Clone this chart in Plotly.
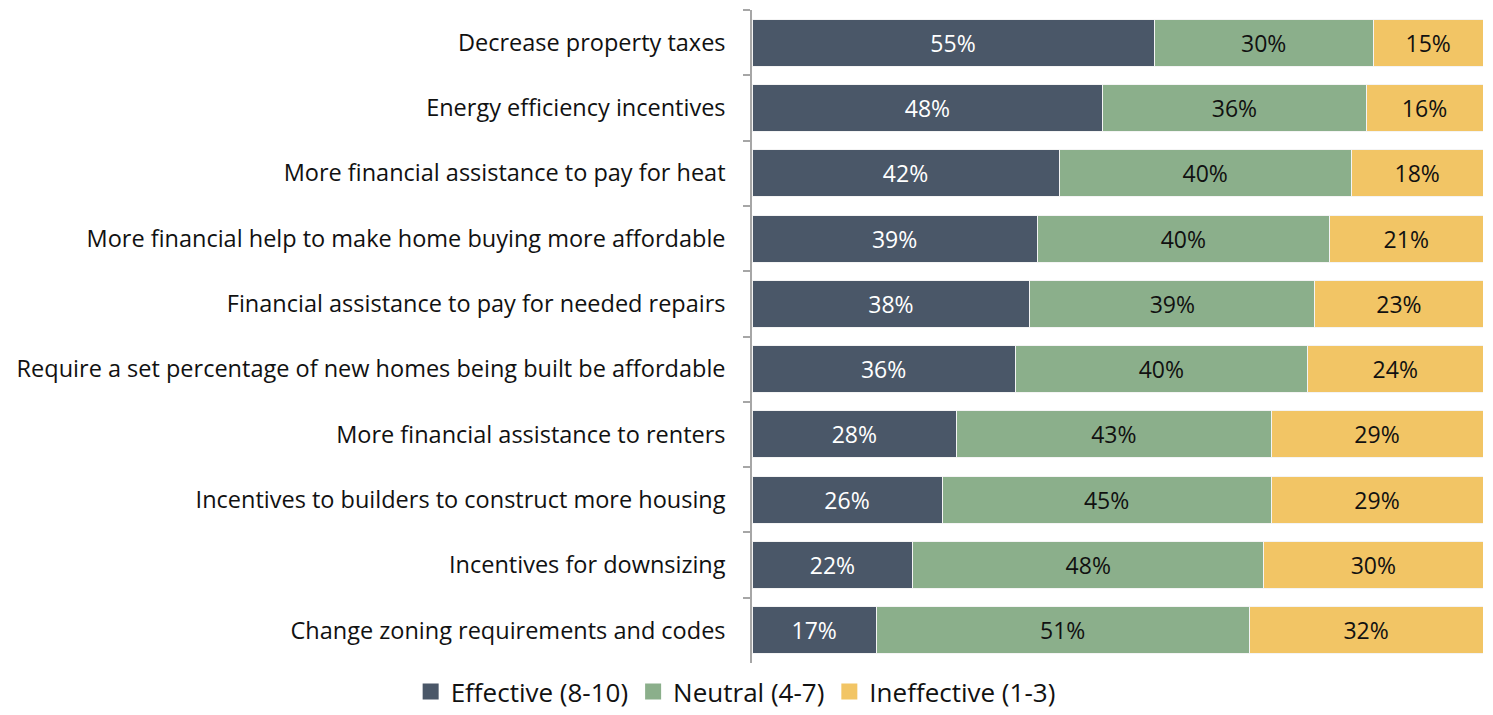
import plotly.graph_objects as go

categories = [
    "Decrease property taxes",
    "Energy efficiency incentives",
    "More financial assistance to pay for heat",
    "More financial help to make home buying more affordable",
    "Financial assistance to pay for needed repairs",
    "Require a set percentage of new homes being built be affordable",
    "More financial assistance to renters",
    "Incentives to builders to construct more housing",
    "Incentives for downsizing",
    "Change zoning requirements and codes",
]
effective = [55, 48, 42, 39, 38, 36, 28, 26, 22, 17]
neutral = [30, 36, 40, 40, 39, 40, 43, 45, 48, 51]
ineffective = [15, 16, 18, 21, 23, 24, 29, 29, 30, 32]

series = [
    ("Effective (8-10)", effective, "#4A5768", "white"),
    ("Neutral (4-7)", neutral, "#8BAF8B", "#111111"),
    ("Ineffective (1-3)", ineffective, "#F2C565", "#111111"),
]

FONT = "Open Sans"
fig = go.Figure()
for name, vals, color, tcolor in series:
    fig.add_trace(go.Bar(
        y=categories, x=vals, name=name, orientation="h",
        marker=dict(color=color, line=dict(color="#F4F4F4", width=1)),
        text=[f"{v}%" for v in vals], textposition="inside",
        insidetextanchor="middle", textangle=0,
        textfont=dict(family=FONT, size=23, color=tcolor),
        hoverinfo="skip", showlegend=False,
    ))
# legend entries with square swatches
for name, vals, color, tcolor in series:
    fig.add_trace(go.Scatter(
        x=[None], y=[None], mode="markers", name=name,
        marker=dict(symbol="square", size=18, color=color),
        hoverinfo="skip", showlegend=True,
    ))

fig.update_layout(
    width=1485, height=707,
    barmode="stack", bargap=0.28,
    plot_bgcolor="white", paper_bgcolor="white",
    margin=dict(l=744, r=10, t=2, b=52, autoexpand=False),
    font=dict(family=FONT, size=23.5, color="#111111"),
    uniformtext=dict(minsize=23, mode="show"),
    legend=dict(orientation="h", x=0.49, xref="container", xanchor="center",
                y=0, yref="container", yanchor="bottom",
                font=dict(family=FONT, size=26, color="#111111"),
                itemsizing="trace", traceorder="normal", itemwidth=30),
    showlegend=True,
)
fig.update_xaxes(range=[0, 100], visible=False, automargin=False)
fig.update_yaxes(autorange="reversed", showline=True, linecolor="#A6A6A6",
                 linewidth=1.5, ticks="outside", tickson="boundaries",
                 ticklen=7, tickcolor="#A6A6A6", tickwidth=1.5,
                 ticklabelstandoff=20, automargin=False,
                 tickfont=dict(family=FONT, size=23.5, color="#111111"))

fig.write_html("out.html")
